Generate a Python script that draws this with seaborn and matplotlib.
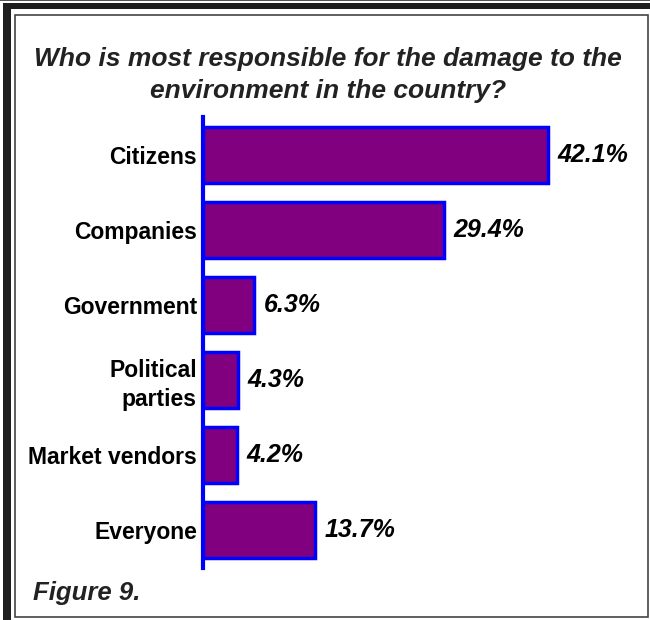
import matplotlib
matplotlib.use("Agg")
import matplotlib.pyplot as plt
from matplotlib.patches import Rectangle
import seaborn as sns
import pandas as pd

# Survey results
categories = ["Citizens", "Companies", "Government", "Political\nparties",
              "Market vendors", "Everyone"]
shares = [42.1, 29.4, 6.3, 4.3, 4.2, 13.7]
title_text = "Who is most responsible for the damage to the\nenvironment in the country?"
caption_text = "Figure 9."

df = pd.DataFrame({"category": categories, "share": shares})

sns.set_style("white")
plt.rcParams["font.family"] = ["Liberation Sans", "DejaVu Sans"]

W, H = 650, 620
fig = plt.figure(figsize=(W / 100, H / 100), dpi=100)
fig.patch.set_facecolor("white")


def px_rect(x0, y0, x1, y1, **kw):
    """Rectangle given in pixel coordinates measured from the top-left."""
    return Rectangle((x0 / W, 1 - y1 / H), (x1 - x0) / W, (y1 - y0) / H,
                     transform=fig.transFigure, **kw)


# Decorative frame
fig.add_artist(px_rect(0, 0, W, 1.2, color="#555555", lw=0))
fig.add_artist(px_rect(3, 3, W, 8.5, color="#1e1e1e", lw=0))
fig.add_artist(px_rect(3, 3, 10.5, H, color="#1e1e1e", lw=0))
fig.add_artist(px_rect(15, 14.5, 647.5, 616.5, fill=False,
                       edgecolor="#444444", lw=1.2))

# Plot area
ax_left, ax_right = 202.5, 202.5 + 50 * 8.2
ax_top, ax_bottom = 117.5, 567.5
ax = fig.add_axes([ax_left / W, 1 - ax_bottom / H,
                   (ax_right - ax_left) / W, (ax_bottom - ax_top) / H])
ax.patch.set_alpha(0)

sns.barplot(data=df, x="share", y="category", orient="h", ax=ax,
            color="#800080", saturation=1, width=0.75,
            edgecolor="#0000ff", linewidth=2.5)

ax.set_xlim(0, 50)
ax.set_ylim(len(categories) - 0.5, -0.5)
ax.set_xlabel("")
ax.set_ylabel("")
ax.set_xticks([])
for side in ("top", "right", "bottom"):
    ax.spines[side].set_visible(False)
ax.spines["left"].set_color("#0000ff")
ax.spines["left"].set_linewidth(3)
ax.tick_params(axis="y", length=0, pad=4)
for lbl in ax.get_yticklabels():
    lbl.set_fontsize(16.5)
    lbl.set_fontweight("bold")
    lbl.set_color("black")
    lbl.set_linespacing(1.3)

for i, v in enumerate(shares):
    ax.annotate(f"{v:.1f}%", xy=(v, i), xytext=(7, 0),
                textcoords="offset points", va="center", ha="left",
                fontsize=18, fontweight="bold", fontstyle="italic",
                color="black")

fig.text(0.505, 1 - 75 / H, title_text, ha="center", va="center",
         fontsize=19, fontweight="bold", fontstyle="italic",
         color="#222222", linespacing=1.45)
fig.text(33 / W, 1 - 593 / H, caption_text, ha="left", va="center",
         fontsize=18.5, fontweight="bold", fontstyle="italic",
         color="#222222")

fig.savefig("out.png", dpi=100)
